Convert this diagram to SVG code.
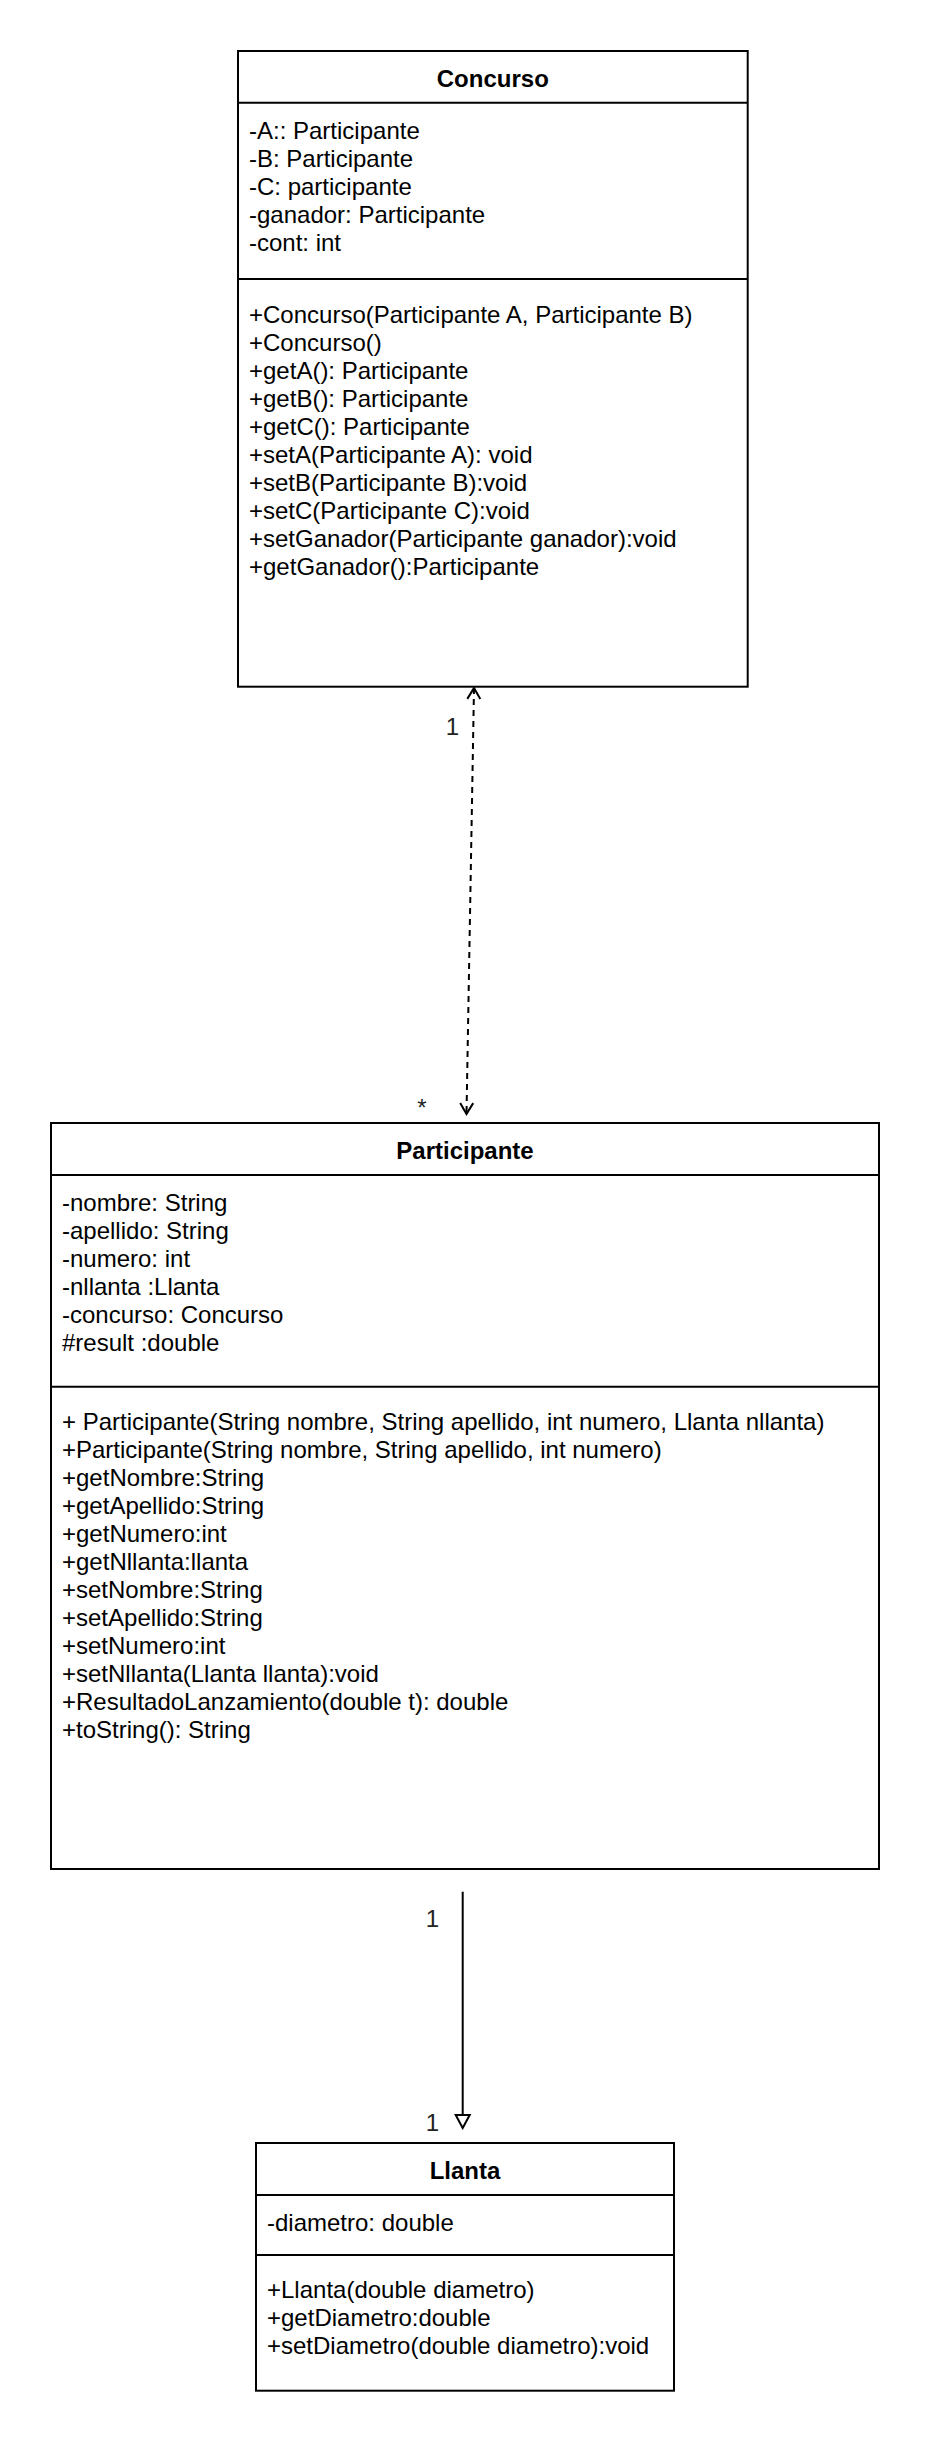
<svg xmlns="http://www.w3.org/2000/svg" width="930" height="2448" viewBox="0 0 930 2448">
  <style>
    .box { fill: #ffffff; stroke: #000000; stroke-width: 2; }
    .sep { stroke: #000000; stroke-width: 2; fill: none; }
    .title { font-family: "Liberation Sans", Arial, sans-serif; font-size: 24px; font-weight: bold; fill: #000000; text-anchor: middle; }
    .member { font-family: "Liberation Sans", Arial, sans-serif; font-size: 24px; fill: #000000; }
    .mult { font-family: "Liberation Sans", Arial, sans-serif; font-size: 24px; fill: #222222; text-anchor: middle; }
    .edge { stroke: #000000; stroke-width: 2; fill: none; }
    .dashed { stroke-dasharray: 6 5; }
  </style>
  <defs>
    <marker id="openArrow" markerUnits="userSpaceOnUse" viewBox="-14 -9 16 18" refX="0" refY="0" markerWidth="16" markerHeight="18" orient="auto-start-reverse">
      <path d="M-11,-6.5 L0,0 L-11,6.5" fill="none" stroke="#000000" stroke-width="2"/>
    </marker>
    <marker id="hollowTri" markerUnits="userSpaceOnUse" viewBox="-15 -9 17 18" refX="0" refY="0" markerWidth="17" markerHeight="18" orient="auto">
      <path d="M-13,-7 L0,0 L-13,7 Z" fill="#ffffff" stroke="#000000" stroke-width="2"/>
    </marker>
  </defs>

  <g id="connectors">
    <path class="edge dashed" d="M474,688 L466.5,1114" marker-start="url(#openArrow)" marker-end="url(#openArrow)"/>
    <text class="mult" x="452.5" y="734.5">1</text>
    <text class="mult" x="422" y="1115.5">*</text>
    <path class="edge" d="M462.7,1891.7 L462.7,2128" marker-end="url(#hollowTri)"/>
    <text class="mult" x="432.5" y="1927">1</text>
    <text class="mult" x="432.5" y="2130.5">1</text>
  </g>

  <g id="Concurso">
    <rect class="box" x="238" y="51" width="509.7" height="635.7"/>
    <line class="sep" x1="238" y1="102.7" x2="747.7" y2="102.7"/>
    <line class="sep" x1="238" y1="279" x2="747.7" y2="279"/>
    <text class="title" x="492.8" y="87">Concurso</text>
    <text class="member" x="249">
      <tspan x="249" y="138.5">-A:: Participante</tspan>
      <tspan x="249" dy="28">-B: Participante</tspan>
      <tspan x="249" dy="28">-C: participante</tspan>
      <tspan x="249" dy="28">-ganador: Participante</tspan>
      <tspan x="249" dy="28">-cont: int</tspan>
    </text>
    <text class="member" x="249">
      <tspan x="249" y="322.5">+Concurso(Participante A, Participante B)</tspan>
      <tspan x="249" dy="28">+Concurso()</tspan>
      <tspan x="249" dy="28">+getA(): Participante</tspan>
      <tspan x="249" dy="28">+getB(): Participante</tspan>
      <tspan x="249" dy="28">+getC(): Participante</tspan>
      <tspan x="249" dy="28">+setA(Participante A): void</tspan>
      <tspan x="249" dy="28">+setB(Participante B):void</tspan>
      <tspan x="249" dy="28">+setC(Participante C):void</tspan>
      <tspan x="249" dy="28">+setGanador(Participante ganador):void</tspan>
      <tspan x="249" dy="28">+getGanador():Participante</tspan>
    </text>
  </g>

  <g id="Participante">
    <rect class="box" x="51" y="1123" width="828" height="746"/>
    <line class="sep" x1="51" y1="1175" x2="879" y2="1175"/>
    <line class="sep" x1="51" y1="1386.7" x2="879" y2="1386.7"/>
    <text class="title" x="465" y="1159">Participante</text>
    <text class="member" x="62">
      <tspan x="62" y="1210.8">-nombre: String</tspan>
      <tspan x="62" dy="28">-apellido: String</tspan>
      <tspan x="62" dy="28">-numero: int</tspan>
      <tspan x="62" dy="28">-nllanta :Llanta</tspan>
      <tspan x="62" dy="28">-concurso: Concurso</tspan>
      <tspan x="62" dy="28">#result :double</tspan>
    </text>
    <text class="member" x="62">
      <tspan x="62" y="1429.9">+ Participante(String nombre, String apellido, int numero, Llanta nllanta)</tspan>
      <tspan x="62" dy="28">+Participante(String nombre, String apellido, int numero)</tspan>
      <tspan x="62" dy="28">+getNombre:String</tspan>
      <tspan x="62" dy="28">+getApellido:String</tspan>
      <tspan x="62" dy="28">+getNumero:int</tspan>
      <tspan x="62" dy="28">+getNllanta:llanta</tspan>
      <tspan x="62" dy="28">+setNombre:String</tspan>
      <tspan x="62" dy="28">+setApellido:String</tspan>
      <tspan x="62" dy="28">+setNumero:int</tspan>
      <tspan x="62" dy="28">+setNllanta(Llanta llanta):void</tspan>
      <tspan x="62" dy="28">+ResultadoLanzamiento(double t): double</tspan>
      <tspan x="62" dy="28">+toString(): String</tspan>
    </text>
  </g>

  <g id="Llanta">
    <rect class="box" x="256" y="2143" width="418" height="247.7"/>
    <line class="sep" x1="256" y1="2195" x2="674" y2="2195"/>
    <line class="sep" x1="256" y1="2255" x2="674" y2="2255"/>
    <text class="title" x="465" y="2179">Llanta</text>
    <text class="member" x="267" y="2230.5">-diametro: double</text>
    <text class="member" x="267">
      <tspan x="267" y="2298.2">+Llanta(double diametro)</tspan>
      <tspan x="267" dy="28">+getDiametro:double</tspan>
      <tspan x="267" dy="28">+setDiametro(double diametro):void</tspan>
    </text>
  </g>
</svg>
